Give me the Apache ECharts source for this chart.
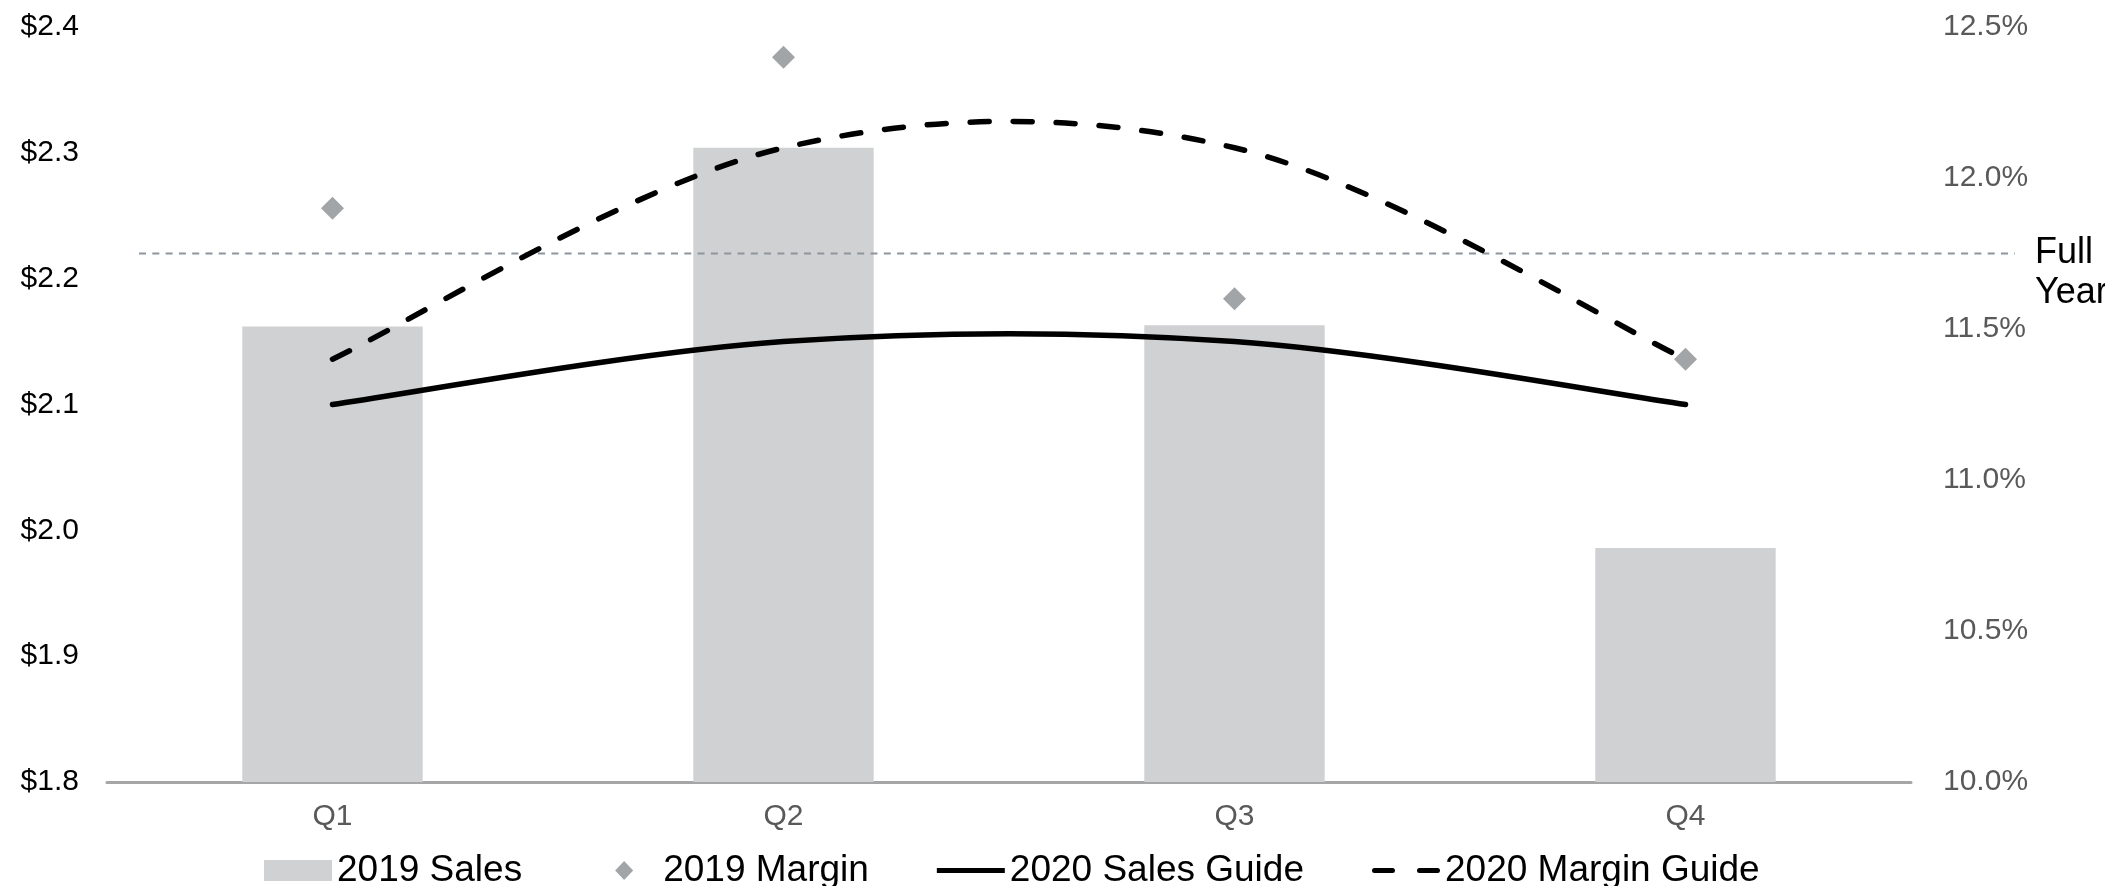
<!DOCTYPE html>
<html>
<head>
<meta charset="utf-8">
<script src="https://cdn.jsdelivr.net/npm/echarts@6/dist/echarts.min.js"></script>
<style>html,body{margin:0;padding:0;background:#fff;}#chart{width:2105px;height:886px;}</style>
</head>
<body>
<div id="chart"></div>
<script>
const categories = ['Q1', 'Q2', 'Q3', 'Q4'];
const sales2019 = [2.162, 2.304, 2.163, 1.986];
const margin2019 = [11.9, 12.4, 11.6, 11.4];
const salesGuide2020 = [2.10, 2.15, 2.15, 2.10];
const marginGuide2020 = [11.4, 12.1, 12.1, 11.4];
const fullYearMargin = 11.75;
const fullYearLabel = 'Full\nYear';

const FONT = "'Liberation Sans', Arial, sans-serif";
const chart = echarts.init(document.getElementById('chart'), null, {renderer: 'canvas'});

// Excel-like smoothed curve (Catmull-Rom style Bezier) drawn through the axis scales
function smoothCurveRenderer(lineStyle) {
  return function (params, api) {
    if (params.dataIndex !== 0) return null;
    const n = params.dataInsideLength !== undefined ? params.dataInsideLength : categories.length;
    const pts = [];
    for (let j = 0; j < n; j++) {
      pts.push(api.coord([api.value(0, j), api.value(1, j)]));
    }
    let d = 'M' + pts[0][0] + ',' + pts[0][1];
    for (let i = 0; i < n - 1; i++) {
      const p0 = pts[Math.max(i - 1, 0)];
      const p1 = pts[i];
      const p2 = pts[i + 1];
      const p3 = pts[Math.min(i + 2, n - 1)];
      const c1x = p1[0] + (p2[0] - p0[0]) / 6;
      const c1y = p1[1] + (p2[1] - p0[1]) / 6;
      const c2x = p2[0] - (p3[0] - p1[0]) / 6;
      const c2y = p2[1] - (p3[1] - p1[1]) / 6;
      d += ' C' + c1x + ',' + c1y + ' ' + c2x + ',' + c2y + ' ' + p2[0] + ',' + p2[1];
    }
    return {
      type: 'path',
      shape: {pathData: d},
      style: Object.assign({fill: null}, lineStyle)
    };
  };
}

chart.setOption({
  animation: false,
  backgroundColor: '#ffffff',
  textStyle: {fontFamily: FONT},
  legend: {
    left: 264,
    top: 852,
    padding: 0,
    itemWidth: 68,
    itemHeight: 21,
    itemGap: 68,
    textStyle: {fontFamily: FONT, fontSize: 37, color: '#000000'},
    data: [
      {name: '2019 Sales', icon: 'rect'},
      {name: '2019 Margin', icon: 'path://M0,0M68,21M34,1L43,10.5L34,20L25,10.5Z'},
      {name: '2020 Sales Guide', icon: 'path://M0,0M68,21M0,8L68,8L68,13L0,13Z'},
      {name: '2020 Margin Guide', icon: 'path://M0,0M68,21M2.5,8L20.5,8A2.5,2.5,0,0,1,20.5,13L2.5,13A2.5,2.5,0,0,1,2.5,8ZM47.5,8L65.5,8A2.5,2.5,0,0,1,65.5,13L47.5,13A2.5,2.5,0,0,1,47.5,8Z'}
    ]
  },
  grid: [
    {left: 107, right: 194, top: 27, bottom: 104, containLabel: false},
    {left: 139, right: 90, top: 27, bottom: 104, containLabel: false}
  ],
  xAxis: [
    {
      type: 'category', gridIndex: 0, data: categories,
      axisLine: {show: true, lineStyle: {color: '#a6a6a6', width: 3}},
      axisTick: {show: false},
      axisLabel: {color: '#595959', fontSize: 30, fontFamily: FONT, margin: 20},
      splitLine: {show: false}
    },
    {type: 'value', gridIndex: 1, min: 0, max: 1, show: false}
  ],
  yAxis: [
    {
      type: 'value', gridIndex: 0, min: 1.8, max: 2.4, interval: 0.1,
      axisLine: {show: false}, axisTick: {show: false}, splitLine: {show: false},
      axisLabel: {color: '#000000', fontSize: 30, fontFamily: FONT, margin: 28,
        formatter: v => '$' + v.toFixed(1)}
    },
    {
      type: 'value', gridIndex: 0, position: 'right', min: 10, max: 12.5, interval: 0.5,
      axisLine: {show: false}, axisTick: {show: false}, splitLine: {show: false},
      axisLabel: {color: '#595959', fontSize: 30, fontFamily: FONT, margin: 32,
        formatter: v => v.toFixed(1) + '%'}
    },
    {type: 'value', gridIndex: 1, min: 10, max: 12.5, show: false}
  ],
  series: [
    {
      name: '2019 Sales', type: 'bar', xAxisIndex: 0, yAxisIndex: 0,
      data: sales2019, barWidth: '40%',
      itemStyle: {color: '#d0d1d3'}, z: 1
    },
    {
      name: 'Full Year', type: 'line', xAxisIndex: 1, yAxisIndex: 2,
      data: [[0, fullYearMargin], [1, fullYearMargin]],
      symbol: 'none', silent: true,
      lineStyle: {color: '#8d969d', width: 2, type: [7, 6.3]},
      endLabel: {show: true, formatter: fullYearLabel, color: '#000000', fontSize: 36,
        fontFamily: FONT, lineHeight: 40, distance: 20, offset: [0, 20], align: 'left'},
      z: 2
    },
    {
      name: '2019 Margin', type: 'scatter', xAxisIndex: 0, yAxisIndex: 1,
      data: margin2019, symbol: 'diamond', symbolSize: 23,
      itemStyle: {color: '#8b8e91'}, z: 3
    },
    {
      name: '2020 Sales Guide', type: 'custom', xAxisIndex: 0, yAxisIndex: 0,
      data: salesGuide2020.map((v, i) => [i, v]),
      encode: {x: 0, y: 1},
      itemStyle: {color: '#000000'},
      renderItem: smoothCurveRenderer({stroke: '#000000', lineWidth: 5.5, lineCap: 'round'}),
      z: 4
    },
    {
      name: '2020 Margin Guide', type: 'custom', xAxisIndex: 0, yAxisIndex: 1,
      data: marginGuide2020.map((v, i) => [i, v]),
      encode: {x: 0, y: 1},
      itemStyle: {color: '#000000'},
      renderItem: smoothCurveRenderer({stroke: '#000000', lineWidth: 5.5, lineCap: 'round', lineDash: [19, 24]}),
      z: 4
    }
  ]
});
</script>
</body>
</html>
